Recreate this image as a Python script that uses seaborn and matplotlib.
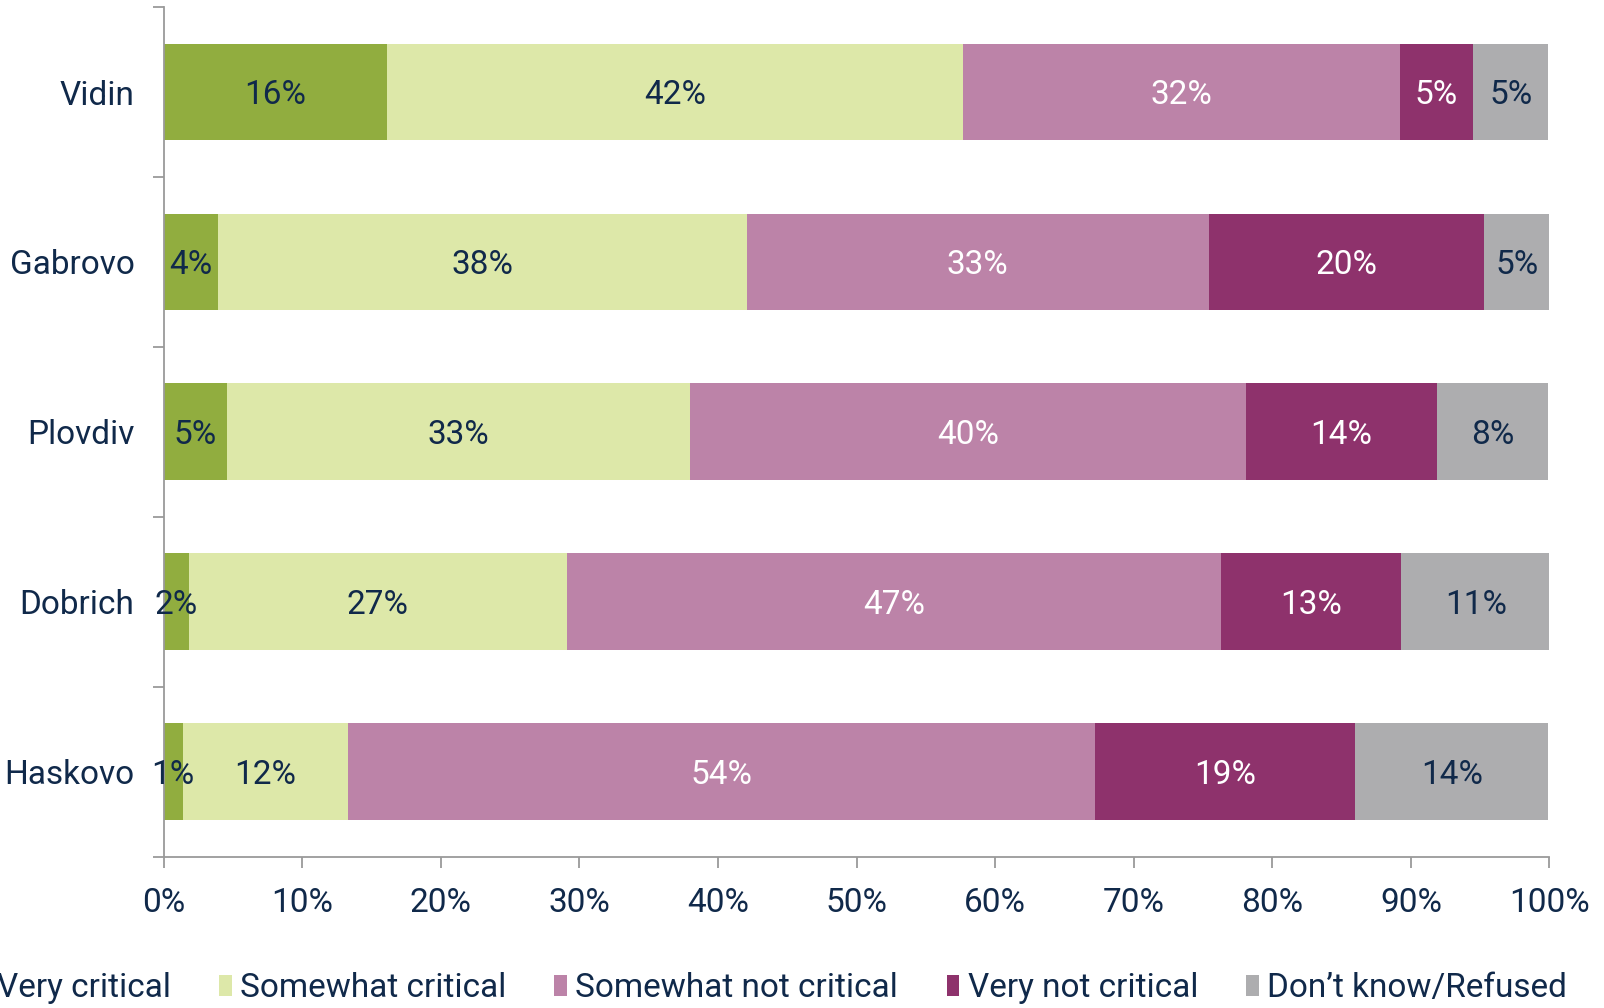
import matplotlib
matplotlib.use("Agg")
import matplotlib.pyplot as plt
from matplotlib.patches import Patch
import numpy as np
import pandas as pd
import seaborn as sns

regions = ["Vidin", "Gabrovo", "Plovdiv", "Dobrich", "Haskovo"]
series = ["Very critical", "Somewhat critical", "Somewhat not critical",
          "Very not critical", "Don\u2019t know/Refused"]
very_critical = [16.1, 3.9, 4.6, 1.8, 1.4]
somewhat_critical = [41.6, 38.2, 33.4, 27.3, 11.9]
somewhat_not_critical = [31.5, 33.3, 40.1, 47.2, 53.9]
very_not_critical = [5.3, 19.9, 13.8, 13.0, 18.8]
dont_know = [5.4, 4.7, 8.0, 10.8, 13.9]
x_ticks = [0, 10, 20, 30, 40, 50, 60, 70, 80, 90, 100]

colors = ["#91AD3F", "#DDE8A9", "#BC83A8", "#8E326C", "#ADADAF"]
label_colors = ["#10294A", "#10294A", "white", "white", "#10294A"]
navy = "#10294A"

sns.set_theme(style="white")
plt.rcParams["font.family"] = ["Roboto", "DejaVu Sans"]

values = np.array([very_critical, somewhat_critical, somewhat_not_critical,
                   very_not_critical, dont_know])
cum = np.cumsum(values, axis=0)

fig = plt.figure(figsize=(16.04, 10.08), dpi=100)
ax = fig.add_axes([0.102, 0.150, 0.864, 0.843])

# stacked bars: draw cumulative totals from the outermost segment inwards
for i in range(len(series) - 1, -1, -1):
    df = pd.DataFrame({"region": regions, "value": cum[i]})
    sns.barplot(data=df, x="value", y="region", orient="h", color=colors[i],
                saturation=1, width=0.57, ax=ax, linewidth=0)

fs = 24
for i in range(len(series)):
    for j in range(len(regions)):
        center = cum[i, j] - values[i, j] / 2
        ax.text(center, j + 0.02, f"{values[i, j]:.0f}%", ha="center", va="center",
                fontsize=fs, color=label_colors[i])

ax.set_xlim(0, 100)
ax.set_ylim(len(regions) - 0.5, -0.5)
ax.set_xticks(x_ticks)
ax.set_xticklabels([f"{t}%" for t in x_ticks])
ax.set_yticks(range(len(regions)))
ax.set_yticklabels(regions)
ax.set_yticks(np.arange(-0.5, len(regions), 1.0), minor=True)
ax.set_xlabel("")
ax.set_ylabel("")

for s in ["top", "right"]:
    ax.spines[s].set_visible(False)
for s in ["left", "bottom"]:
    ax.spines[s].set_color("#9A9A9A")
    ax.spines[s].set_linewidth(1.3)

ax.tick_params(axis="y", which="major", length=0, pad=21, labelsize=fs, labelcolor=navy)
ax.tick_params(axis="y", which="minor", left=True, length=8, width=1.3, color="#9A9A9A")
ax.tick_params(axis="x", which="major", bottom=True, length=8, width=1.3,
               color="#9A9A9A", pad=14, labelsize=fs, labelcolor=navy)

handles = [Patch(facecolor=c, edgecolor="none", label=l) for c, l in zip(colors, series)]
fig.legend(handles=handles, loc="center right", bbox_to_anchor=(0.977, 0.020), ncol=5,
           frameon=False, fontsize=fs, labelcolor=navy, handlelength=0.38,
           handleheight=0.6, handletextpad=0.25, columnspacing=1.45,
           borderpad=0, borderaxespad=0)

fig.savefig("out.png", dpi=100)
